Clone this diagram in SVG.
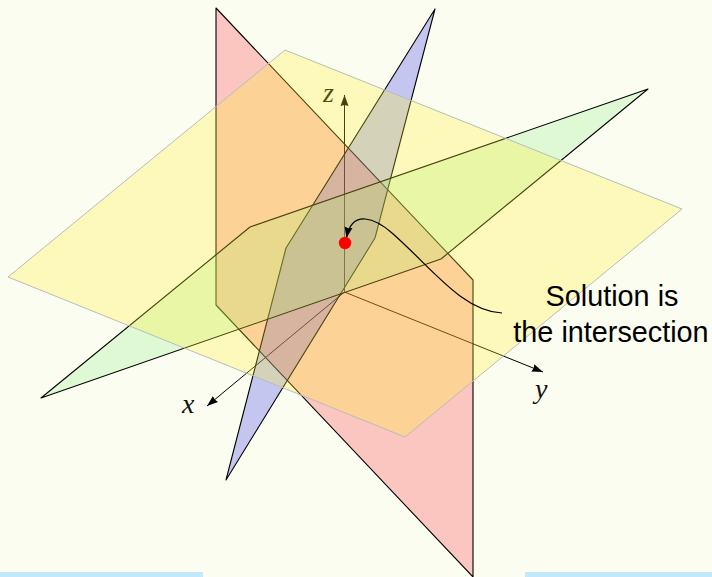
<svg xmlns="http://www.w3.org/2000/svg" width="712" height="577" viewBox="0 0 712 577">
<style>
.plane{stroke:#000;stroke-width:1.1;stroke-linejoin:round}
.axis{fill:none;stroke:#000;stroke-width:1}
.math{font-family:"Liberation Serif",serif;font-style:italic;font-size:28px;fill:#111}
.note{font-family:"Liberation Sans",Arial,sans-serif;font-size:28.8px;fill:#000;text-anchor:middle}
</style>
<defs>
<marker id="head" markerUnits="userSpaceOnUse" markerWidth="14" markerHeight="12" refX="11" refY="5" orient="auto"><path d="M0,1L11,5L0,9L1,5Z" fill="#000"/></marker>
</defs>
<rect width="712" height="577" fill="#fbfdf0"/>
<rect x="0" y="572" width="203" height="5" fill="#c4e8fb"/>
<rect x="525" y="572" width="187" height="5" fill="#c4e8fb"/>
<g id="connectors">
<path class="axis" d="M344.5,292V95" marker-end="url(#head)"/>
<path class="axis" d="M344.5,292L207,406" marker-end="url(#head)"/>
<path class="axis" d="M344.5,292L543,372" marker-end="url(#head)"/>
</g>
<g id="axis-labels">
<text class="math" x="323" y="102">z</text>
<text class="math" x="182" y="413">x</text>
<text class="math" x="535" y="398">y</text>
</g>
<g id="plane-red"><polygon class="plane" points="216,8 473,280 473,577 216,305" fill="#ff2330" fill-opacity="0.25"/></g>
<g id="plane-blue"><polygon class="plane" points="435,9 375,238 226,480 286,248" fill="#2424f0" fill-opacity="0.25"/></g>
<g id="plane-green"><polygon class="plane" points="648,89 441,259 41,398 250,227" fill="#90f084" fill-opacity="0.25"/></g>
<g id="plane-yellow"><polygon points="285,50 682,209 405,437 8,277" fill="#fff030" fill-opacity="0.28" stroke="#bbb" stroke-width="1"/></g>
<g id="solution">
<path d="M502,313C462,311 432,268 392,233C376,219 352,208 346.5,238" fill="none" stroke="#000" stroke-width="1.2" marker-end="url(#head)"/>
<circle cx="345" cy="243" r="6.2" fill="#f00"/>
</g>
<g id="note">
<text class="note" x="612" y="306">Solution is</text>
<text class="note" x="611" y="342">the intersection</text>
</g>
</svg>
